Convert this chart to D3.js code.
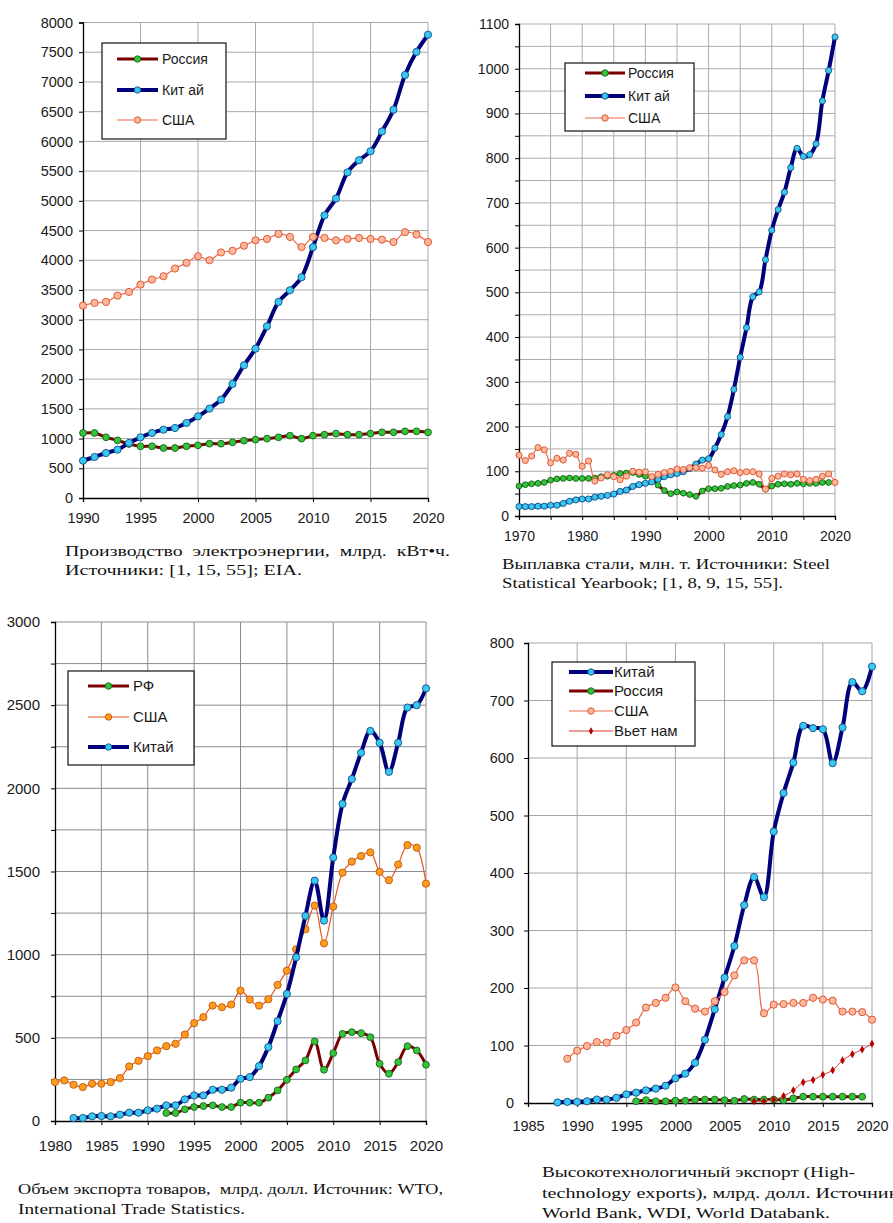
<!DOCTYPE html>
<html>
<head>
<meta charset="utf-8">
<script src="https://cdn.jsdelivr.net/npm/d3@7"></script>
<style>
  body { margin: 0; background: #fff; }
  svg text { font-family: "Liberation Sans", Arial, sans-serif; fill: #1a1a1a; }
  svg text.cap { font-family: "Liberation Serif", "Times New Roman", serif; fill: #111; }
</style>
</head>
<body>
<svg id="svg" width="893" height="1223"></svg>
<script>
// ---- electricity production, bn kWh (1990-2020)
const elecStart = 1990;
const elecRussia = [1094, 1094, 1021, 970, 909, 870, 870, 841, 841, 870, 886, 914, 914, 937, 965, 982, 999, 1021, 1049, 999, 1049, 1066, 1083, 1066, 1066, 1083, 1105, 1105, 1122, 1122, 1105];
const elecChina = [628, 690, 757, 813, 926, 1021, 1094, 1150, 1178, 1262, 1374, 1504, 1655, 1919, 2233, 2513, 2889, 3299, 3495, 3714, 4220, 4756, 5039, 5478, 5683, 5833, 6167, 6533, 7117, 7506, 7794];
const elecUSA = [3237, 3282, 3299, 3405, 3467, 3590, 3675, 3731, 3860, 3955, 4067, 4000, 4131, 4159, 4244, 4335, 4358, 4443, 4392, 4222, 4392, 4375, 4335, 4358, 4375, 4358, 4347, 4307, 4472, 4432, 4307];

// ---- steel, mln t (1970-2020)
const steelStart = 1970;
const steelRussia = [67, 70, 72, 73, 75, 80, 83, 84, 85, 84, 84, 84, 85, 88, 89, 91, 95, 96, 97, 93, 89, 86, 69, 57, 50, 54, 51, 48, 44, 56, 61, 61, 62, 66, 68, 69, 73, 75, 71, 60, 67, 71, 72, 71, 73, 72, 73, 73, 75, 75];
const steelChina = [21, 21, 21, 22, 22, 24, 24, 28, 33, 36, 38, 38, 42, 44, 46, 49, 55, 58, 66, 70, 73, 76, 82, 88, 92, 95, 99, 106, 116, 125, 128, 152, 182, 222, 283, 355, 421, 490, 501, 573, 639, 685, 724, 779, 822, 804, 808, 832, 928, 996, 1071];
const steelUSA = [136, 124, 134, 153, 148, 119, 129, 125, 140, 138, 111, 123, 78, 85, 92, 88, 81, 89, 100, 98, 99, 88, 93, 97, 100, 105, 104, 108, 108, 107, 113, 103, 93, 99, 101, 97, 99, 99, 94, 60, 84, 89, 94, 92, 94, 82, 79, 82, 89, 94, 75];

// ---- merchandise exports, bn USD
const expRussiaStart = 1992;
const expRussia = [48, 48, 70, 84, 90, 94, 84, 84, 110, 110, 110, 140, 184, 248, 310, 364, 478, 308, 408, 524, 534, 528, 504, 344, 284, 354, 450, 424, 338];
const expUSAStart = 1980;
const expUSA = [234, 244, 218, 204, 224, 224, 234, 258, 328, 362, 390, 424, 450, 464, 520, 588, 624, 694, 684, 700, 784, 730, 694, 732, 818, 904, 1032, 1153, 1295, 1068, 1289, 1493, 1559, 1593, 1615, 1498, 1448, 1542, 1659, 1643, 1427];
const expChinaStart = 1982;
const expChina = [18, 18, 28, 30, 28, 38, 50, 50, 64, 74, 94, 94, 130, 154, 154, 188, 188, 200, 254, 264, 330, 444, 600, 764, 984, 1233, 1445, 1205, 1584, 1906, 2056, 2214, 2345, 2274, 2099, 2274, 2486, 2500, 2601];

// ---- high-technology exports, bn USD
const htChinaStart = 1988;
const htChina = [1, 2, 2, 3, 6, 6, 9, 15, 18, 22, 25, 30, 43, 51, 70, 110, 163, 218, 273, 344, 393, 358, 472, 539, 592, 656, 652, 650, 591, 653, 732, 716, 759];
const htRussiaStart = 1996;
const htRussia = [3, 5, 3, 3, 4, 4, 6, 6, 6, 5, 4, 7, 6, 6, 6, 5, 8, 11, 11, 11, 11, 11, 11, 11];
const htUSAStart = 1989;
const htUSA = [77, 91, 99, 106, 105, 117, 127, 140, 166, 174, 183, 201, 177, 164, 159, 177, 193, 222, 248, 248, 156, 171, 172, 174, 174, 183, 180, 178, 159, 159, 158, 145];
const htVietnamStart = 2008;
const htVietnam = [3, 3, 6, 12, 22, 36, 40, 49, 57, 74, 85, 93, 103];

// line / marker styles
const stRussia = { line: "#7a0000", width: 3, fill: "#33c43a", stroke: "#1b6e1f", r: 3.4 };
const stChina = { line: "#00007a", width: 4, fill: "#38c8f4", stroke: "#1d5b8c", r: 3.6 };
const stUSA = { line: "#ee6a4c", width: 1.2, fill: "#ffb79a", stroke: "#dc5a3a", r: 3.6 };
const stUSAorange = { line: "#e6561c", width: 1.2, fill: "#ff9b1e", stroke: "#c8600e", r: 3.6 };
const stVietnam = { line: "#d83a3a", width: 1, fill: "#b80000", stroke: "#b80000", r: 2.2, diamond: true };

const svg = d3.select("#svg");
svg.append("rect").attr("width", 893).attr("height", 1223).attr("fill", "#fff");

function toPoints(start, values) {
  return values.map((v, i) => ({ year: start + i, value: v }));
}

function drawMarker(g, x, y, st, r) {
  if (st.diamond) {
    g.append("path")
      .attr("d", d3.symbol().type(d3.symbolDiamond).size(r * r * 4)())
      .attr("transform", "translate(" + x + "," + y + ")")
      .attr("fill", st.fill);
  } else {
    g.append("circle")
      .attr("cx", x).attr("cy", y).attr("r", r)
      .attr("fill", st.fill)
      .attr("stroke", st.stroke)
      .attr("stroke-width", 1);
  }
}

function drawChart(cfg) {
  const g = svg.append("g");
  const x = d3.scaleLinear().domain(cfg.xDomain).range(cfg.xRange);
  const y = d3.scaleLinear().domain(cfg.yDomain).range(cfg.yRange);

  const yGrid = d3.range(cfg.yDomain[0], cfg.yDomain[1] + 0.1, cfg.yGridStep);
  const xGrid = d3.range(cfg.xDomain[0], cfg.xDomain[1] + 0.1, cfg.xGridStep);

  // grid
  g.selectAll(".hg").data(yGrid.slice(1)).enter().append("line")
    .attr("x1", cfg.xRange[0]).attr("x2", cfg.xRange[1])
    .attr("y1", d => y(d)).attr("y2", d => y(d))
    .attr("stroke", cfg.gridColor).attr("stroke-width", 1);
  g.selectAll(".vg").data(xGrid.slice(1)).enter().append("line")
    .attr("x1", d => x(d)).attr("x2", d => x(d))
    .attr("y1", cfg.yRange[0]).attr("y2", cfg.yRange[1])
    .attr("stroke", cfg.gridColor).attr("stroke-width", 1);

  // axes
  const yAxis = d3.axisLeft(y).tickValues(yGrid).tickSize(4).tickFormat(d => (Math.round(d) % cfg.yLabelStep === 0 ? d : ""));
  const ya = g.append("g").attr("transform", "translate(" + cfg.xRange[0] + ",0)").call(yAxis);
  ya.selectAll("text").attr("font-size", cfg.fontSize).attr("dx", -cfg.yLabelGap);
  const xAxis = d3.axisBottom(x).tickValues(xGrid).tickSize(4).tickFormat(d => (d % cfg.xLabelStep === 0 ? d : ""));
  const xa = g.append("g").attr("transform", "translate(0," + cfg.yRange[0] + ")").call(xAxis);
  xa.selectAll("text").attr("font-size", cfg.fontSize).attr("dy", cfg.xLabelDy);
  g.selectAll(".domain").attr("stroke", "#000").attr("stroke-width", 1.3);
  g.selectAll(".tick line").attr("stroke", "#000");
  g.selectAll(".tick text").attr("fill", "#1a1a1a").style("font-family", "'Liberation Sans', Arial, sans-serif");

  // series
  const line = d3.line().x(d => x(d.year)).y(d => y(d.value)).curve(d3.curveCatmullRom.alpha(0.5));
  cfg.series.forEach(s => {
    const pts = toPoints(s.start, s.values);
    g.append("path").datum(pts)
      .attr("d", line)
      .attr("fill", "none")
      .attr("stroke", s.st.line)
      .attr("stroke-width", s.st.width)
      .attr("stroke-linejoin", "round");
    const mg = g.append("g");
    pts.forEach(p => drawMarker(mg, x(p.year), y(p.value), s.st, s.st.r * (cfg.markerScale || 1)));
  });

  // legend
  const L = cfg.legend;
  g.append("rect")
    .attr("x", L.x).attr("y", L.y).attr("width", L.w).attr("height", L.h)
    .attr("fill", "#fff").attr("stroke", "#111").attr("stroke-width", 1.2);
  cfg.series.slice().sort((a, b) => a.order - b.order).forEach((s, i) => {
    const ly = L.rows[i];
    g.append("line")
      .attr("x1", L.lx1).attr("x2", L.lx2).attr("y1", ly).attr("y2", ly)
      .attr("stroke", s.st.line).attr("stroke-width", s.st.width);
    drawMarker(g, (L.lx1 + L.lx2) / 2, ly, s.st, s.st.diamond ? 2 : 3.2);
    g.append("text")
      .attr("x", L.tx).attr("y", ly).attr("dy", "0.36em")
      .attr("font-size", L.fontSize)
      .text(s.name);
  });

  // caption
  cfg.caption.forEach(c => {
    const t = g.append("text").attr("class", "cap")
      .attr("x", c.x).attr("y", c.y)
      .attr("font-size", c.size)
      .attr("xml:space", "preserve")
      .style("white-space", "pre")
      .text(c.text);
    if (c.len) t.attr("textLength", c.len).attr("lengthAdjust", "spacingAndGlyphs");
  });
}

drawChart({
  xDomain: [1990, 2020], xRange: [83, 428],
  yDomain: [0, 8000], yRange: [498, 22.5],
  yGridStep: 500, yLabelStep: 500, xGridStep: 5, xLabelStep: 5,
  gridColor: "#a9a9a9", fontSize: 14.5, yLabelGap: 3, xLabelDy: "1.25em",
  series: [
    { name: "Россия", start: elecStart, values: elecRussia, st: stRussia, order: 0 },
    { name: "Кит ай", start: elecStart, values: elecChina, st: stChina, order: 1 },
    { name: "США", start: elecStart, values: elecUSA, st: stUSA, order: 2 }
  ],
  legend: { x: 102, y: 43, w: 124, h: 96, rows: [59, 90, 120], lx1: 117, lx2: 158, tx: 162, fontSize: 14 },
  caption: [
    { text: "Производство  электроэнергии,  млрд.  кВт•ч.", x: 65, y: 556, size: 15, len: 385 },
    { text: "Источники: [1, 15, 55]; EIA.", x: 65, y: 575, size: 15, len: 237 }
  ]
});

drawChart({
  xDomain: [1970, 2020], xRange: [519, 835],
  yDomain: [0, 1100], yRange: [516, 24],
  yGridStep: 50, yLabelStep: 100, xGridStep: 5, xLabelStep: 10,
  gridColor: "#acacac", fontSize: 14, yLabelGap: 3, xLabelDy: "1.3em", markerScale: 0.85,
  series: [
    { name: "Россия", start: steelStart, values: steelRussia, st: stRussia, order: 0 },
    { name: "Кит ай", start: steelStart, values: steelChina, st: stChina, order: 1 },
    { name: "США", start: steelStart, values: steelUSA, st: stUSA, order: 2 }
  ],
  legend: { x: 565, y: 63, w: 129, h: 68, rows: [73, 96, 118], lx1: 585, lx2: 625, tx: 628, fontSize: 14 },
  caption: [
    { text: "Выплавка стали, млн. т. Источники: Steel", x: 502, y: 569, size: 15, len: 328 },
    { text: "Statistical Yearbook; [1, 8, 9, 15, 55].", x: 502, y: 588, size: 15, len: 281 }
  ]
});

drawChart({
  xDomain: [1980, 2020], xRange: [55, 426],
  yDomain: [0, 3000], yRange: [1121, 622],
  yGridStep: 250, yLabelStep: 500, xGridStep: 5, xLabelStep: 5,
  gridColor: "#8a8a96", fontSize: 15, yLabelGap: 8, xLabelDy: "1.5em",
  series: [
    { name: "РФ", start: expRussiaStart, values: expRussia, st: stRussia, order: 0 },
    { name: "США", start: expUSAStart, values: expUSA, st: stUSAorange, order: 1 },
    { name: "Китай", start: expChinaStart, values: expChina, st: stChina, order: 2 }
  ],
  legend: { x: 68, y: 671, w: 126, h: 94, rows: [686, 717, 747], lx1: 88, lx2: 129, tx: 133, fontSize: 15 },
  caption: [
    { text: "Объем экспорта товаров,  млрд. долл. Источник: WTO,", x: 18, y: 1194, size: 15, len: 425 },
    { text: "International Trade Statistics.", x: 18, y: 1214, size: 15, len: 227 }
  ]
});

drawChart({
  xDomain: [1985, 2020], xRange: [528, 872],
  yDomain: [0, 800], yRange: [1103, 643],
  yGridStep: 100, yLabelStep: 100, xGridStep: 5, xLabelStep: 5,
  gridColor: "#a6a6a6", fontSize: 14.5, yLabelGap: 7, xLabelDy: "1.45em",
  series: [
    { name: "Китай", start: htChinaStart, values: htChina, st: stChina, order: 0 },
    { name: "Россия", start: htRussiaStart, values: htRussia, st: stRussia, order: 1 },
    { name: "США", start: htUSAStart, values: htUSA, st: stUSA, order: 2 },
    { name: "Вьет нам", start: htVietnamStart, values: htVietnam, st: stVietnam, order: 3 }
  ],
  legend: { x: 552, y: 662, w: 143, h: 84, rows: [672, 691, 711, 731], lx1: 569, lx2: 613, tx: 614, fontSize: 15 },
  caption: [
    { text: "Высокотехнологичный экспорт (High-", x: 542, y: 1177, size: 15, len: 313 },
    { text: "technology exports), млрд. долл. Источник:", x: 542, y: 1198, size: 15, len: 362 },
    { text: "World Bank, WDI, World Databank.", x: 542, y: 1218, size: 15, len: 288 }
  ]
});
</script>
</body>
</html>
